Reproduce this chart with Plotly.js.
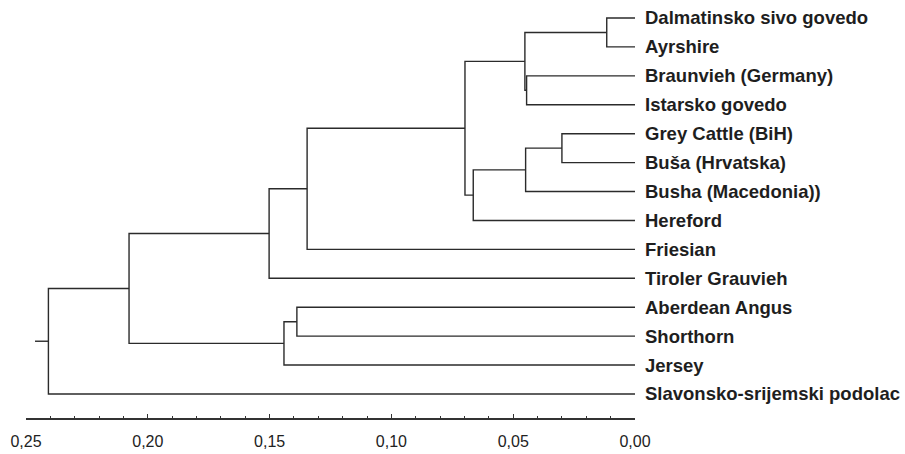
<!DOCTYPE html>
<html>
<head>
<meta charset="utf-8">
<script src="https://cdn.plot.ly/plotly-3.0.1.min.js"></script>
<style>html,body{margin:0;padding:0;background:#fff;}#chart{width:905px;height:454px;}</style>
</head>
<body>
<div id="chart"></div>
<script>
// Leaves (top to bottom)
const leafNames = [
  'Dalmatinsko sivo govedo', 'Ayrshire', 'Braunvieh (Germany)', 'Istarsko govedo',
  'Grey Cattle (BiH)', 'Buša (Hrvatska)', 'Busha (Macedonia))', 'Hereford',
  'Friesian', 'Tiroler Grauvieh', 'Aberdean Angus', 'Shorthorn', 'Jersey',
  'Slavonsko-srijemski podolac'
];
// Merges (linkage): node 14 + k joins mergeA[k] and mergeB[k] at mergeHeight[k]
const mergeA = [0, 2, 14, 4, 17, 18, 16, 20, 21, 10, 23, 22, 25];
const mergeB = [1, 3, 15, 5, 6, 7, 19, 8, 9, 11, 12, 24, 13];
const mergeHeight = [0.0116, 0.0445, 0.0452, 0.0300, 0.0449, 0.0664, 0.0698, 0.1346, 0.1502, 0.1388, 0.1441, 0.2077, 0.2408];
const rootStub = 0.2463;
const tickVals = [0.25, 0.20, 0.15, 0.10, 0.05, 0.00];

const nx = [], ny = [];
leafNames.forEach((n, i) => { nx.push(0); ny.push(i); });
const xs = [], ys = [];
mergeA.forEach((a, k) => {
  const b = mergeB[k], h = mergeHeight[k];
  const yn = (ny[a] + ny[b]) / 2;
  xs.push(nx[a], h, h, nx[b], null);
  ys.push(ny[a], ny[a], ny[b], ny[b], null);
  nx.push(h); ny.push(yn);
});
const root = nx.length - 1;
xs.push(nx[root], rootStub, null);
ys.push(ny[root], ny[root], null);

const traces = [{
  x: xs, y: ys, type: 'scatter', mode: 'lines',
  line: {color: '#2b2b2b', width: 1.4},
  hoverinfo: 'skip', cliponaxis: false, connectgaps: false
}];

const annotations = leafNames.map((n, i) => ({
  x: 0, y: i, xref: 'x', yref: 'y', text: n, showarrow: false,
  xanchor: 'left', yanchor: 'middle', xshift: 8,
  font: {family: 'Liberation Sans, Arial, sans-serif', size: 18.5, color: '#1e1e1e', weight: 'bold'}
}));

const layout = {
  width: 905, height: 454,
  margin: {l: 26, r: 270, t: 0, b: 36},
  paper_bgcolor: '#fff', plot_bgcolor: '#fff',
  showlegend: false,
  separators: ',.',
  xaxis: {
    range: [0.25, 0], showgrid: false, zeroline: false,
    showline: true, linecolor: '#333', linewidth: 1.5,
    ticks: 'inside', ticklen: 4, tickcolor: '#333', tickwidth: 1,
    tickmode: 'array', tickvals: tickVals, tickformat: '.2f',
    ticklabelstandoff: 8,
    tickfont: {family: 'Liberation Sans, Arial, sans-serif', size: 16, color: '#222'},
    minor: {dtick: 0.01, tick0: 0, ticks: 'inside', ticklen: 2, tickcolor: '#333', showgrid: false},
    fixedrange: true
  },
  yaxis: {range: [13.83, -0.622], visible: false, fixedrange: true},
  annotations: annotations
};

Plotly.newPlot('chart', traces, layout, {displayModeBar: false, staticPlot: true});
</script>
</body>
</html>
